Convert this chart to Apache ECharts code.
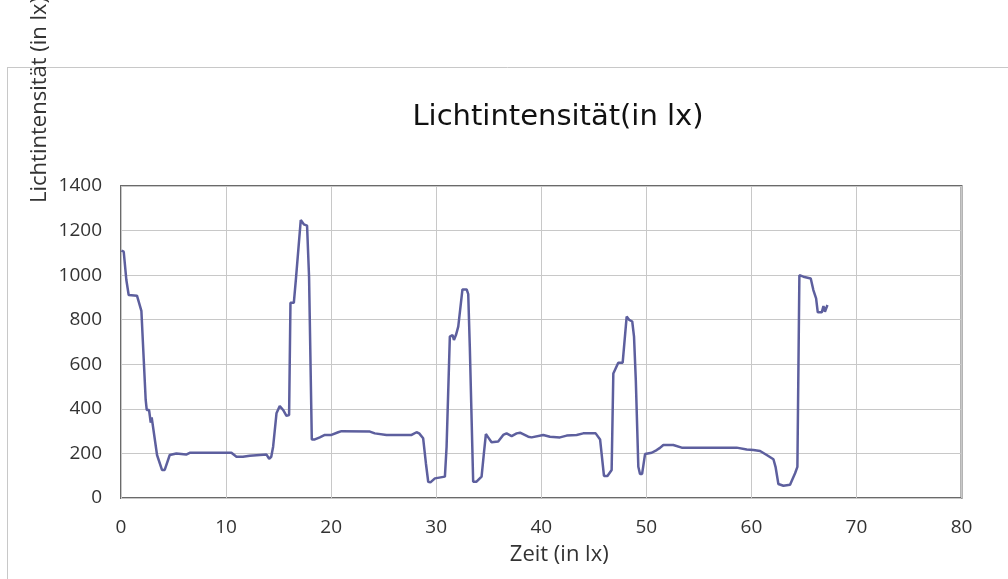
<!DOCTYPE html>
<html>
<head>
<meta charset="utf-8">
<script src="https://cdn.jsdelivr.net/npm/echarts@6/dist/echarts.min.js"></script>
<style>
html,body{margin:0;padding:0;background:#fff;}
#c{width:1008px;height:579px;}
</style>
</head>
<body>
<div id="c"></div>
<script>
var chartTitle = 'Lichtintensität(in lx)';
var xAxisName = 'Zeit (in lx)';
var yAxisName = 'Lichtintensität (in lx)';
var xTicks = [0, 10, 20, 30, 40, 50, 60, 70, 80];
var yTicks = [0, 200, 400, 600, 800, 1000, 1200, 1400];
var timeValues = [0.04,0.26,0.51,0.73,1.52,1.94,2.35,2.45,2.67,2.83,2.92,3.11,3.43,3.9,4.16,4.64,5.27,6.2,6.54,7.17,8.5,10.51,10.99,11.6,12.26,13.85,14.1,14.3,14.48,14.8,15.11,15.43,15.75,16.0,16.13,16.45,16.64,17.11,17.4,17.71,17.9,18.16,18.45,18.92,19.4,20.03,20.67,20.99,23.69,24.16,24.3,25.27,27.66,28.13,28.38,28.76,29.02,29.24,29.45,29.88,30.83,30.99,31.3,31.56,31.69,31.88,32.1,32.5,32.9,33.05,33.2,33.52,33.84,34.32,34.54,34.73,34.95,35.27,35.9,36.38,36.7,37.18,37.66,37.98,38.76,39.08,40.19,40.83,41.78,42.42,43.37,44.0,45.18,45.6,45.97,46.3,46.7,46.86,47.33,47.75,48.13,48.38,48.66,48.83,49.0,49.24,49.4,49.6,49.88,50.51,50.99,51.3,51.62,52.57,53.37,58.6,58.77,59.56,60.2,60.83,61.46,62.1,62.3,62.57,63.05,63.68,64.16,64.38,64.57,64.95,65.65,65.9,66.16,66.32,66.7,66.86,67.0,67.24];
var luxValues = [1110,1105,978,911,908,840,440,395,395,338,362,357,193,126,126,193,200,195,203,203,203,203,185,185,190,195,176,185,230,380,413,395,369,372,876,876,978,1247,1228,1222,993,263,263,272,283,283,295,300,298,290,295,283,283,295,290,268,156,73,70,88,96,230,724,731,709,731,769,936,936,915,679,73,73,96,200,287,272,250,253,283,290,278,290,293,275,272,283,275,272,280,283,290,290,263,99,99,126,559,607,607,814,799,792,724,529,140,108,108,197,203,215,225,238,238,226,226,230,218,215,211,193,174,140,63,55,59,111,140,1000,993,985,933,896,833,833,861,836,866];

var seriesData = timeValues.map(function (t, i) { return [t, luxValues[i]]; });

var chart = echarts.init(document.getElementById('c'), null, {renderer: 'canvas'});
var axisFont = '"Open Sans", "Noto Sans", sans-serif';
chart.setOption({
  animation: false,
  backgroundColor: '#ffffff',
  title: {
    text: chartTitle,
    left: 553,
    top: 98,
    textAlign: 'center',
    textStyle: {fontFamily: '"DejaVu Sans", sans-serif', fontSize: 29, fontWeight: 'normal', color: '#111'}
  },
  grid: {left: 121, right: 46.5, top: 186, bottom: 81, show: true, borderColor: '#6a6a6a', borderWidth: 2, backgroundColor: 'transparent'},
  xAxis: {
    type: 'value', min: xTicks[0], max: xTicks[xTicks.length - 1], interval: 10,
    name: xAxisName, nameLocation: 'middle', nameGap: 46,
    nameTextStyle: {fontFamily: axisFont, fontSize: 22, color: '#333', padding: [0, 0, 0, 36]},
    axisLine: {show: false}, axisTick: {show: false},
    axisLabel: {fontFamily: axisFont, fontSize: 19, color: '#333', margin: 20},
    splitLine: {show: true, lineStyle: {color: '#c8c8c8', width: 1}}
  },
  yAxis: {
    type: 'value', min: yTicks[0], max: yTicks[yTicks.length - 1], interval: 200,
    axisLine: {show: false}, axisTick: {show: false},
    axisLabel: {fontFamily: axisFont, fontSize: 19, color: '#333', margin: 19,
      formatter: function (v) { return String(v); }},
    splitLine: {show: true, lineStyle: {color: '#c8c8c8', width: 1}}
  },
  graphic: [
    {type: 'line', shape: {x1: 7, y1: 67.5, x2: 1008, y2: 67.5}, style: {stroke: '#c8c8c8', lineWidth: 1}, silent: true},
    {type: 'line', shape: {x1: 7.5, y1: 67, x2: 7.5, y2: 579}, style: {stroke: '#c8c8c8', lineWidth: 1}, silent: true},
    {type: 'text', x: 39.5, y: 203, rotation: Math.PI / 2,
      style: {text: yAxisName, fontFamily: axisFont, fontSize: 22, fill: '#333', align: 'left', verticalAlign: 'middle'}, silent: true}
  ],
  series: [{
    type: 'line', data: seriesData, showSymbol: false, symbol: 'none',
    lineStyle: {color: '#5d5f9e', width: 2.5}, smooth: false
  }]
});
</script>
</body>
</html>
